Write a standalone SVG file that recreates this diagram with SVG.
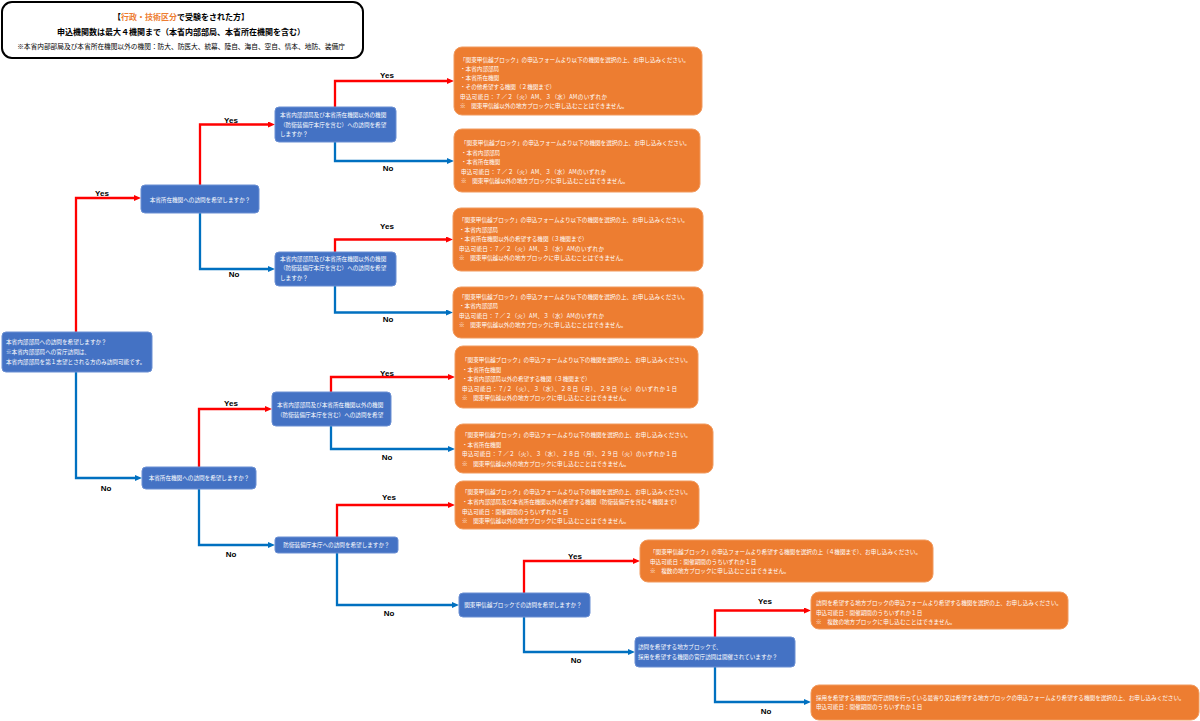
<svg xmlns="http://www.w3.org/2000/svg" width="1200" height="721" viewBox="0 0 1200 721">
<defs>
<style>
.bg{fill:#ffffff}
.title{fill:#ffffff;stroke:#000000;stroke-width:2}
.t1{font-family:"Noto Sans CJK JP","Noto Sans",sans-serif;font-weight:bold;font-size:8px;fill:#000000}
.t3{font-family:"Noto Sans CJK JP","Noto Sans",sans-serif;font-size:6.7px;fill:#000000}
.or{fill:#ED7D31}
.q{fill:#4472C4;stroke:#6B8FD3;stroke-width:1}
.o{fill:#ED7D31;stroke:#F19A5E;stroke-width:1}
.tx{font-family:"Noto Sans CJK JP","Noto Sans",sans-serif;font-size:5.6px;fill:#ffffff}
.c{text-anchor:middle}
.lab{font-family:"Liberation Sans",Arial,sans-serif;font-weight:bold;font-size:8px;fill:#000000;text-anchor:middle}
.yes{fill:none;stroke:#FF0000;stroke-width:2.3}
.no{fill:none;stroke:#0070C0;stroke-width:2.3}
</style>
<marker id="ar" markerUnits="userSpaceOnUse" markerWidth="7" markerHeight="6" refX="2" refY="3" orient="auto"><path d="M0,0 L7,3 L0,6 z" fill="#FF0000"/></marker>
<marker id="ab" markerUnits="userSpaceOnUse" markerWidth="7" markerHeight="6" refX="2" refY="3" orient="auto"><path d="M0,0 L7,3 L0,6 z" fill="#0070C0"/></marker>
</defs>
<rect class="bg" x="0" y="0" width="1200" height="721"/>

<g id="title">
<rect class="title" x="2" y="2" width="361" height="56" rx="10"/>
<text class="t1" x="181" y="20" text-anchor="middle">【<tspan class="or">行政・技術区分</tspan>で受験をされた方】</text>
<text class="t1" x="181" y="35" text-anchor="middle">申込機関数は最大４機関まで（本省内部部局、本省所在機関を含む）</text>
<text class="t3" x="181" y="48.5" text-anchor="middle">※本省内部部局及び本省所在機関以外の機関：防大、防医大、統幕、陸自、海自、空自、情本、地防、装備庁</text>
</g>

<g id="connectors">
<path class="yes" d="M76,332 V198 H136" marker-end="url(#ar)"/>
<path class="no" d="M76,372 V478 H137" marker-end="url(#ab)"/>
<path class="yes" d="M200,185 V124.5 H270" marker-end="url(#ar)"/>
<path class="no" d="M200,213 V269 H270" marker-end="url(#ab)"/>
<path class="yes" d="M335,107 V81 H449" marker-end="url(#ar)"/>
<path class="no" d="M335,142 V161 H449" marker-end="url(#ab)"/>
<path class="yes" d="M335,252 V239.5 H448" marker-end="url(#ar)"/>
<path class="no" d="M335,286 V312.5 H448" marker-end="url(#ab)"/>
<path class="yes" d="M199,467 V409 H267" marker-end="url(#ar)"/>
<path class="no" d="M199,489 V545 H270" marker-end="url(#ab)"/>
<path class="yes" d="M331,392 V377 H450" marker-end="url(#ar)"/>
<path class="no" d="M331,426 V449 H450" marker-end="url(#ab)"/>
<path class="yes" d="M337,537 V505 H450" marker-end="url(#ar)"/>
<path class="no" d="M337,553 V605 H454" marker-end="url(#ab)"/>
<path class="yes" d="M524,593 V561 H635" marker-end="url(#ar)"/>
<path class="no" d="M524,617 V652 H630" marker-end="url(#ab)"/>
<path class="yes" d="M715,637 V610.5 H806" marker-end="url(#ar)"/>
<path class="no" d="M715,667 V702 H806" marker-end="url(#ab)"/>
<text class="lab" x="102" y="196">Yes</text>
<text class="lab" x="106" y="491">No</text>
<text class="lab" x="231" y="123">Yes</text>
<text class="lab" x="234" y="277">No</text>
<text class="lab" x="387" y="78">Yes</text>
<text class="lab" x="388" y="171">No</text>
<text class="lab" x="387" y="229">Yes</text>
<text class="lab" x="388" y="322">No</text>
<text class="lab" x="231" y="406">Yes</text>
<text class="lab" x="231" y="557">No</text>
<text class="lab" x="387" y="376">Yes</text>
<text class="lab" x="387" y="460">No</text>
<text class="lab" x="389" y="500">Yes</text>
<text class="lab" x="389" y="616">No</text>
<text class="lab" x="575" y="559">Yes</text>
<text class="lab" x="576" y="663">No</text>
<text class="lab" x="765" y="604">Yes</text>
<text class="lab" x="766" y="714">No</text>
</g>

<g id="q-root">
<rect class="q" x="2" y="332" width="150" height="40" rx="4"/>
<text class="tx" x="6" y="344">本省内部部局への訪問を希望しますか？</text>
<text class="tx" x="6" y="354">※本省内部部局への官庁訪問は、</text>
<text class="tx" x="6" y="364">本省内部部局を第１志望とされる方のみ訪問可能です。</text>
</g>

<g id="q-shozai1">
<rect class="q" x="141" y="185" width="118" height="28" rx="4"/>
<text class="tx c" x="200" y="201.5">本省所在機関への訪問を希望しますか？</text>
</g>

<g id="q-other1">
<rect class="q" x="275" y="107" width="121" height="35" rx="4"/>
<text class="tx" x="280" y="117">本省内部部局及び本省所在機関以外の機関</text>
<text class="tx" x="280" y="126.5">（防衛装備庁本庁を含む）への訪問を希望</text>
<text class="tx" x="280" y="135.5">しますか？</text>
</g>

<g id="q-other2">
<rect class="q" x="275" y="252" width="121" height="34" rx="4"/>
<text class="tx" x="280" y="261">本省内部部局及び本省所在機関以外の機関</text>
<text class="tx" x="280" y="270.3">（防衛装備庁本庁を含む）への訪問を希望</text>
<text class="tx" x="280" y="279.7">しますか？</text>
</g>

<g id="q-shozai2">
<rect class="q" x="142" y="467" width="114" height="22" rx="4"/>
<text class="tx c" x="199" y="480">本省所在機関への訪問を希望しますか？</text>
</g>

<g id="q-other3">
<rect class="q" x="272" y="392" width="119" height="34" rx="4"/>
<text class="tx" x="277" y="407">本省内部部局及び本省所在機関以外の機関</text>
<text class="tx" x="277" y="417">（防衛装備庁本庁を含む）への訪問を希望</text>
</g>

<g id="q-soubi">
<rect class="q" x="275" y="537" width="123" height="16" rx="3"/>
<text class="tx c" x="336.5" y="547">防衛装備庁本庁への訪問を希望しますか？</text>
</g>

<g id="q-kanto">
<rect class="q" x="459" y="593" width="131" height="24" rx="4"/>
<text class="tx c" x="523" y="607">関東甲信越ブロックでの訪問を希望しますか？</text>
</g>

<g id="q-block">
<rect class="q" x="635" y="637" width="160" height="30" rx="4"/>
<text class="tx" x="638" y="649">訪問を希望する地方ブロックで、</text>
<text class="tx" x="638" y="659">採用を希望する機関の官庁訪問は開催されていますか？</text>
</g>

<g id="a1">
<rect class="o" x="454" y="47" width="248" height="68" rx="8"/>
<text class="tx" x="460" y="61.5">「関東甲信越ブロック」の申込フォームより以下の機関を選択の上、お申し込みください。</text>
<text class="tx" x="460" y="70.8">・本省内部部局</text>
<text class="tx" x="460" y="80.1">・本省所在機関</text>
<text class="tx" x="460" y="89.4">・その他希望する機関（２機関まで）</text>
<text class="tx" x="460" y="98.7" textLength="147" lengthAdjust="spacing">申込可能日：７／２（火）AM、３（水）AMのいずれか</text>
<text class="tx" x="460" y="108">※　関東甲信越以外の地方ブロックに申し込むことはできません。</text>
</g>

<g id="a2">
<rect class="o" x="454" y="129" width="246" height="63" rx="8"/>
<text class="tx" x="461" y="145">「関東甲信越ブロック」の申込フォームより以下の機関を選択の上、お申し込みください。</text>
<text class="tx" x="461" y="154.5">・本省内部部局</text>
<text class="tx" x="461" y="164">・本省所在機関</text>
<text class="tx" x="461" y="173.5" textLength="145" lengthAdjust="spacing">申込可能日：７／２（火）AM、３（水）AMのいずれか</text>
<text class="tx" x="461" y="183">※　関東甲信越以外の地方ブロックに申し込むことはできません。</text>
</g>

<g id="a3">
<rect class="o" x="453" y="208" width="250" height="63" rx="8"/>
<text class="tx" x="459" y="222">「関東甲信越ブロック」の申込フォームより以下の機関を選択の上、お申し込みください。</text>
<text class="tx" x="459" y="231.5">・本省内部部局</text>
<text class="tx" x="459" y="241">・本省所在機関以外の希望する機関（３機関まで）</text>
<text class="tx" x="459" y="250.5" textLength="145" lengthAdjust="spacing">申込可能日：７／２（火）AM、３（水）AMのいずれか</text>
<text class="tx" x="459" y="260">※　関東甲信越以外の地方ブロックに申し込むことはできません。</text>
</g>

<g id="a4">
<rect class="o" x="453" y="287" width="250" height="51" rx="8"/>
<text class="tx" x="459" y="299">「関東甲信越ブロック」の申込フォームより以下の機関を選択の上、お申し込みください。</text>
<text class="tx" x="459" y="308.3">・本省内部部局</text>
<text class="tx" x="459" y="317.6" textLength="145" lengthAdjust="spacing">申込可能日：７／２（火）AM、３（水）AMのいずれか</text>
<text class="tx" x="459" y="327">※　関東甲信越以外の地方ブロックに申し込むことはできません。</text>
</g>

<g id="a5">
<rect class="o" x="455" y="346" width="243" height="62" rx="8"/>
<text class="tx" x="462" y="362">「関東甲信越ブロック」の申込フォームより以下の機関を選択の上、お申し込みください。</text>
<text class="tx" x="462" y="371.5">・本省所在機関</text>
<text class="tx" x="462" y="381">・本省内部部局以外の希望する機関（３機関まで）</text>
<text class="tx" x="462" y="390.5" textLength="215" lengthAdjust="spacing">申込可能日：７/２（火）、３（水）、２８日（月）、２９日（火）のいずれか１日</text>
<text class="tx" x="462" y="400">※　関東甲信越以外の地方ブロックに申し込むことはできません。</text>
</g>

<g id="a6">
<rect class="o" x="455" y="424" width="258" height="49" rx="8"/>
<text class="tx" x="462" y="437">「関東甲信越ブロック」の申込フォームより以下の機関を選択の上、お申し込みください。</text>
<text class="tx" x="462" y="446.5">・本省所在機関</text>
<text class="tx" x="462" y="456" textLength="215" lengthAdjust="spacing">申込可能日：７／２（火）、３（水）、２８日（月）、２９日（火）のいずれか１日</text>
<text class="tx" x="462" y="465.5">※　関東甲信越以外の地方ブロックに申し込むことはできません。</text>
</g>

<g id="a7">
<rect class="o" x="455" y="481" width="244" height="48" rx="8"/>
<text class="tx" x="462" y="494">「関東甲信越ブロック」の申込フォームより以下の機関を選択の上、お申し込みください。</text>
<text class="tx" x="462" y="503.5">・本省内部部局及び本省所在機関以外の希望する機関（防衛装備庁を含む４機関まで）</text>
<text class="tx" x="462" y="513.5">申込可能日：開催期間のうちいずれか１日</text>
<text class="tx" x="462" y="523">※　関東甲信越以外の地方ブロックに申し込むことはできません。</text>
</g>

<g id="a8">
<rect class="o" x="640" y="540" width="293" height="42" rx="8"/>
<text class="tx" x="650" y="554">「関東甲信越ブロック」の申込フォームより希望する機関を選択の上（４機関まで）、お申し込みください。</text>
<text class="tx" x="650" y="563.5">申込可能日：開催期間のうちいずれか１日</text>
<text class="tx" x="650" y="573">※　複数の地方ブロックに申し込むことはできません。</text>
</g>

<g id="a9">
<rect class="o" x="811" y="592" width="257" height="37" rx="8"/>
<text class="tx" x="816" y="605">訪問を希望する地方ブロックの申込フォームより希望する機関を選択の上、お申し込みください。</text>
<text class="tx" x="816" y="614.5">申込可能日：開催期間のうちいずれか１日</text>
<text class="tx" x="816" y="624">※　複数の地方ブロックに申し込むことはできません。</text>
</g>

<g id="a10">
<rect class="o" x="811" y="685" width="388" height="35" rx="8"/>
<text class="tx" x="816" y="700">採用を希望する機関が官庁訪問を行っている最寄り又は希望する地方ブロックの申込フォームより希望する機関を選択の上、お申し込みください。</text>
<text class="tx" x="816" y="709">申込可能日：開催期間のうちいずれか１日</text>
</g>
</svg>
